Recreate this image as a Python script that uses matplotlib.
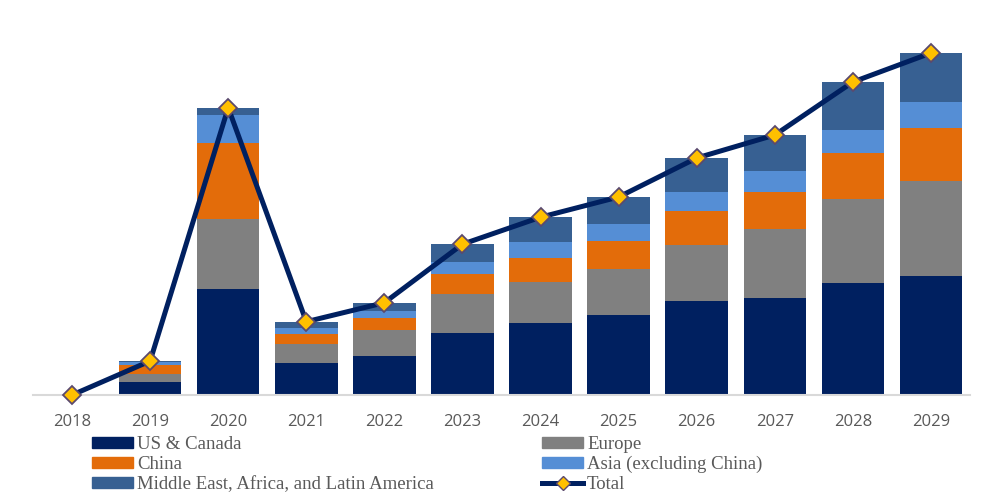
import numpy as np
import matplotlib.pyplot as plt
from matplotlib.patches import Patch
from matplotlib.lines import Line2D

# Data (arbitrary units)
years = ['2018', '2019', '2020', '2021', '2022', '2023',
         '2024', '2025', '2026', '2027', '2028', '2029']
us_canada = [0, 13.0, 106.0, 32.3, 39.3, 61.8, 71.8, 80.0, 94.0, 97.3, 112.0, 119.0]
europe = [0, 8.3, 70.0, 19.0, 26.0, 39.0, 41.7, 46.0, 56.0, 68.7, 84.0, 95.0]
china = [0, 8.7, 75.7, 10.0, 12.0, 20.7, 24.0, 28.0, 34.0, 37.3, 46.0, 53.3]
asia = [0, 2.7, 28.6, 6.0, 7.0, 12.0, 15.3, 17.0, 19.0, 20.7, 23.0, 25.7]
mea = [0, 1.3, 7.0, 6.0, 8.0, 17.3, 25.0, 27.0, 34.0, 36.0, 48.0, 49.0]

series = [
    ('US & Canada', us_canada, '#002060'),
    ('Europe', europe, '#808080'),
    ('China', china, '#E36C0A'),
    ('Asia (excluding China)', asia, '#558ED5'),
    ('Middle East, Africa, and Latin America', mea, '#376092'),
]

W, H = 1004, 503
fig = plt.figure(figsize=(W / 100, H / 100), dpi=100)
ax = fig.add_axes([33 / W, (H - 395) / H, (970 - 33) / W, (395 - 20) / H])

x = np.arange(len(years))
bottom = np.zeros(len(years))
for name, vals, col in series:
    ax.bar(x, vals, width=0.8, bottom=bottom, color=col, zorder=2)
    bottom += np.array(vals)

total = bottom
ax.plot(x, total, color='#002060', lw=3.6, marker='D', markersize=9,
        markerfacecolor='#FFC000', markeredgecolor='#5B4A6E', markeredgewidth=1.3,
        zorder=4, clip_on=False)

ax.set_xlim(-0.5, len(years) - 0.5)
ax.set_ylim(0, 375)
for s in ['top', 'right', 'left']:
    ax.spines[s].set_visible(False)
ax.spines['bottom'].set_color('#D9D9D9')
ax.spines['bottom'].set_linewidth(1.5)
ax.set_yticks([])
ax.set_xticks(x)
ax.set_xticklabels(years, fontsize=12, color='#595959', family='Open Sans')
ax.tick_params(axis='x', length=0, pad=14)

leg_font = {'family': 'Liberation Serif', 'size': 13.5}
h_us = Patch(color='#002060')
h_eu = Patch(color='#808080')
h_cn = Patch(color='#E36C0A')
h_as = Patch(color='#558ED5')
h_mea = Patch(color='#376092')
h_tot = Line2D([], [], color='#002060', lw=3.6, marker='D', markersize=7,
               markerfacecolor='#FFC000', markeredgecolor='#5B4A6E')

common = dict(frameon=False, prop=leg_font, handlelength=2.2, handletextpad=0.2,
              handleheight=0.55, labelspacing=0.16, borderpad=0, borderaxespad=0,
              labelcolor='#595959')
fig.legend([h_us, h_cn, h_mea],
           ['US & Canada', 'China', 'Middle East, Africa, and Latin America'],
           loc='upper left', bbox_to_anchor=(92 / W, (H - 436) / H), **common)
fig.legend([h_eu, h_as, h_tot],
           ['Europe', 'Asia (excluding China)', 'Total'],
           loc='upper left', bbox_to_anchor=(542 / W, (H - 436) / H), **common)

fig.savefig('out.png', dpi=100)
